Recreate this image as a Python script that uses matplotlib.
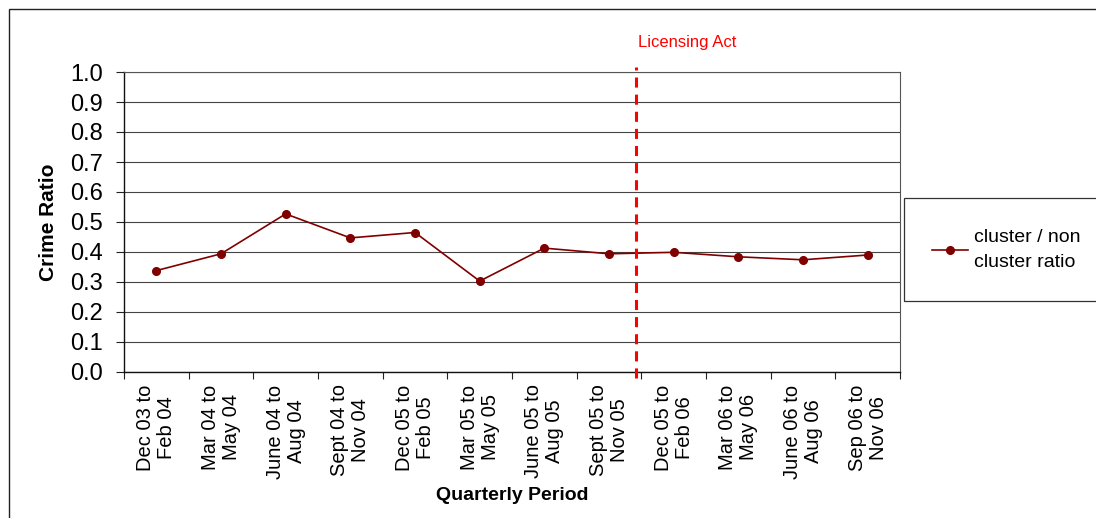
import matplotlib.pyplot as plt
from matplotlib.patches import Rectangle

plt.rcParams['font.family'] = ['Liberation Sans', 'DejaVu Sans']

# quarterly crime ratio, cluster vs non-cluster areas
periods = ['Dec 03 to\nFeb 04', 'Mar 04 to\nMay 04', 'June 04 to\nAug 04',
           'Sept 04 to\nNov 04', 'Dec 05 to\nFeb 05', 'Mar 05 to\nMay 05',
           'June 05 to\nAug 05', 'Sept 05 to\nNov 05', 'Dec 05 to\nFeb 06',
           'Mar 06 to\nMay 06', 'June 06 to\nAug 06', 'Sep 06 to\nNov 06']
ratio = [0.338, 0.394, 0.527, 0.447, 0.465, 0.303,
         0.413, 0.394, 0.399, 0.384, 0.374, 0.390]
act_pos = 7.42  # Licensing Act comes in between Sept-Nov 05 and Dec 05-Feb 06
yticks = [i / 10 for i in range(11)]

fig = plt.figure(figsize=(10.96, 5.18), dpi=100)
ax = fig.add_axes([124 / 1096, 1 - 372 / 518, 776 / 1096, 300 / 518])

x = list(range(len(periods)))
line, = ax.plot(x, ratio, color='#800000', lw=1.2, marker='o', markersize=5.5,
                label='cluster / non\ncluster ratio', zorder=3)

ax.set_xlim(-0.5, len(periods) - 0.5)
ax.set_ylim(0, 1.0)
ax.set_yticks(yticks)
ax.set_yticklabels([f'{v:.1f}' for v in yticks], fontsize=17)
ax.tick_params(axis='y', length=6, width=0.8, pad=9, color='#222222')
ax.set_xticks(x)
ax.set_xticklabels(periods, rotation=90, fontsize=14.5, ha='center', va='top',
                   multialignment='center', linespacing=1.15)
ax.set_xticks([i - 0.5 for i in range(len(periods) + 1)], minor=True)
ax.tick_params(axis='x', which='major', length=0, pad=9)
ax.tick_params(axis='x', which='minor', length=5, width=0.8, color='#222222')

ax.grid(axis='y', color='#444444', lw=0.8)
ax.set_axisbelow(True)
for side in ['left', 'bottom']:
    ax.spines[side].set_color('#111111')
    ax.spines[side].set_linewidth(1.0)
for side in ['top', 'right']:
    ax.spines[side].set_color('#555555')
    ax.spines[side].set_linewidth(0.8)

ax.set_ylabel('Crime Ratio', fontsize=15, fontweight='bold', labelpad=9)
ax.set_xlabel('Quarterly Period', fontsize=14, fontweight='bold', labelpad=6)

# Licensing Act marker
ax.plot([act_pos, act_pos], [-0.02, 1.017], color='#ff0000', lw=2.2,
        dashes=(3.3, 2.3), clip_on=False, zorder=4)
fig.text(638 / 1096, 1 - 42 / 518, 'Licensing Act', color='#ff0000',
         fontsize=12, ha='left', va='center')

# legend box running off the right edge
fig.patches.append(Rectangle((904 / 1096, 1 - 301 / 518), 0.2, 103 / 518,
                             transform=fig.transFigure, fill=False,
                             edgecolor='#333333', lw=0.9))
leg = fig.legend(handles=[line], loc='center left',
                 bbox_to_anchor=(932 / 1096, 1 - 250 / 518), frameon=False,
                 fontsize=14, handlelength=1.85, handletextpad=0.3,
                 borderpad=0, borderaxespad=0)
leg.get_texts()[0].set_linespacing(1.6)

# outer chart border
fig.patches.append(Rectangle((9 / 1096, -0.05), 1.1, 1.05 - 9 / 518,
                             transform=fig.transFigure, fill=False,
                             edgecolor='#222222', lw=1.0))

fig.savefig('out.png', dpi=100)
